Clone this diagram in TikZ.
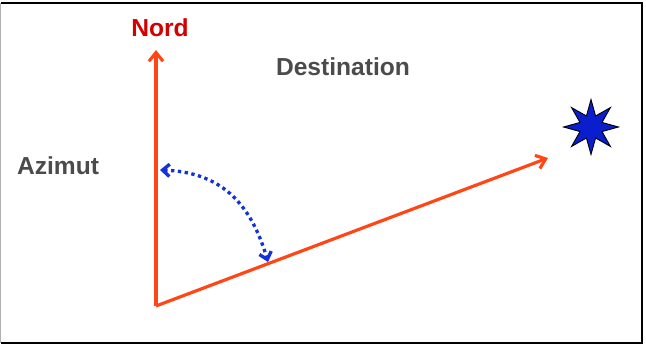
\documentclass[tikz,border=0pt]{standalone}
\usepackage{fontspec}
\setmainfont{Liberation Sans}
\usepackage{xcolor}
\usetikzlibrary{arrows.meta,shapes.geometric}
\definecolor{axec}{RGB}{255,70,20}
\definecolor{nordc}{RGB}{210,0,0}
\definecolor{txtc}{RGB}{75,75,75}
\definecolor{arcc}{RGB}{20,50,215}
\definecolor{starc}{RGB}{10,30,205}

\begin{document}
\begin{tikzpicture}[x=0.02cm,y=-0.02cm,font=\bfseries\fontsize{14}{16}\selectfont,>={Straight Barb[length=5pt,width=8pt]}]
\useasboundingbox (0,0) rectangle (646,347);
\draw[black,line width=1.3pt] (1,3) -- (642,3) -- (642,343) -- (1,343);
\draw[gray!60,line width=0.8pt] (0.5,3) -- (0.5,343);
% axes from the observer
\coordinate (O) at (156,306);
\coordinate (N) at (156,50);
\coordinate (D) at (548,158);
\draw[->,axec,line width=1.8pt,line join=round] (O) -- (N);
\draw[->,axec,line width=1.8pt] (O) -- (D);
% labels
\node[nordc] (nord) at (160,28) {Nord};
\node[txtc] (dest) at (343,67) {Destination};
\node[txtc] (azim) at (58,166) {Azimut};
% target
\node[star,star points=8,star point ratio=2.3,minimum size=1.1cm,inner sep=0pt,fill=starc,draw=black,line width=0.5pt] (cible) at (591,127) {};
% angle between north and destination
\coordinate (a1) at (160,170);
\coordinate (a2) at (268,262);
\draw[<->,arcc,line width=1.9pt,dotted,>={Straight Barb[length=4pt,width=7pt]}] (a1) .. controls (218,172) and (250,200) .. (a2);
\end{tikzpicture}
\end{document}
